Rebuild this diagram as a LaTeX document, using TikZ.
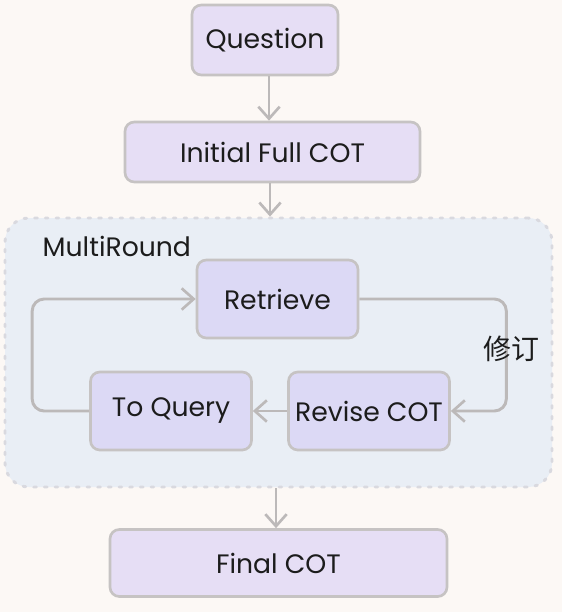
\documentclass[tikz,border=0pt]{standalone}
\usepackage{fontspec}
\setmainfont{Poppins}
\newfontfamily\cjkfont{Noto Sans CJK SC}
\usetikzlibrary{arrows.meta,positioning,calc}
\definecolor{mrPaper}{HTML}{FCF8F5}
\definecolor{mrLilac}{HTML}{E6DEF5}
\definecolor{mrViolet}{HTML}{DCD9F5}
\definecolor{mrMist}{HTML}{E9EEF5}
\definecolor{mrEdge}{HTML}{C6C3C3}
\definecolor{mrDots}{HTML}{D9D9DF}
\definecolor{mrInk}{HTML}{1C1C1C}

\begin{document}
\begin{tikzpicture}[x=0.75pt,y=-0.75pt,font=\fontsize{20}{24}\selectfont,
    text=mrInk,
    flowbox/.style={draw=mrEdge,line width=2pt,rounded corners=7pt,
                    fill=mrLilac,align=center,inner sep=0pt},
    loopbox/.style={flowbox,fill=mrViolet,minimum width=120.75pt,minimum height=58.5pt},
    cluster/.style={draw=mrDots,line width=2.2pt,dash pattern=on 2pt off 6pt,
                    line cap=round,rounded corners=18pt,fill=mrMist},
    edge/.style={draw=mrEdge!95!black,line width=2.2pt,
                 -{Straight Barb[length=9pt,width=16pt,line width=2pt]}}]
  \path[fill=mrPaper] (0,0) rectangle (562,612);
  \node[cluster,minimum width=410.25pt,minimum height=201.75pt] (mr) at (278.5,352.5) {};
  \node[anchor=west] (mrlabel) at (38,246) {MultiRound};

  \node[flowbox,minimum width=109.5pt,minimum height=52.5pt] (q) at (265,40) {Question};
  \node[flowbox,minimum width=221.25pt,minimum height=45pt] (init) at (272.5,152) {Initial Full COT};
  \node[loopbox] (ret) at (277.5,299) {Retrieve};
  \node[loopbox] (rev) at (369,411) {Revise COT};
  \node[loopbox] (tq) at (171,411) {To Query};
  \node[flowbox,minimum width=252.75pt,minimum height=50.25pt] (fin) at (278.5,563) {Final COT};

  \draw[edge] (q.south -| 269,0) -- (init.north -| 269,0);
  \draw[edge] (init.south -| 270,0) -- (mr.north -| 270,0);
  \draw[edge,rounded corners=9pt] (ret.east) -- ++(147,0) |- (rev.east);
  \node[font=\cjkfont\fontsize{21}{24}\selectfont] (rlabel) at (511,349) {修订};
  \draw[edge] (rev) -- (tq);
  \draw[edge,rounded corners=9pt] (tq.west) -- ++(-57,0) |- (ret.west);
  \draw[edge] (mr.south -| 276,0) -- (fin.north -| 276,0);
\end{tikzpicture}
\end{document}
